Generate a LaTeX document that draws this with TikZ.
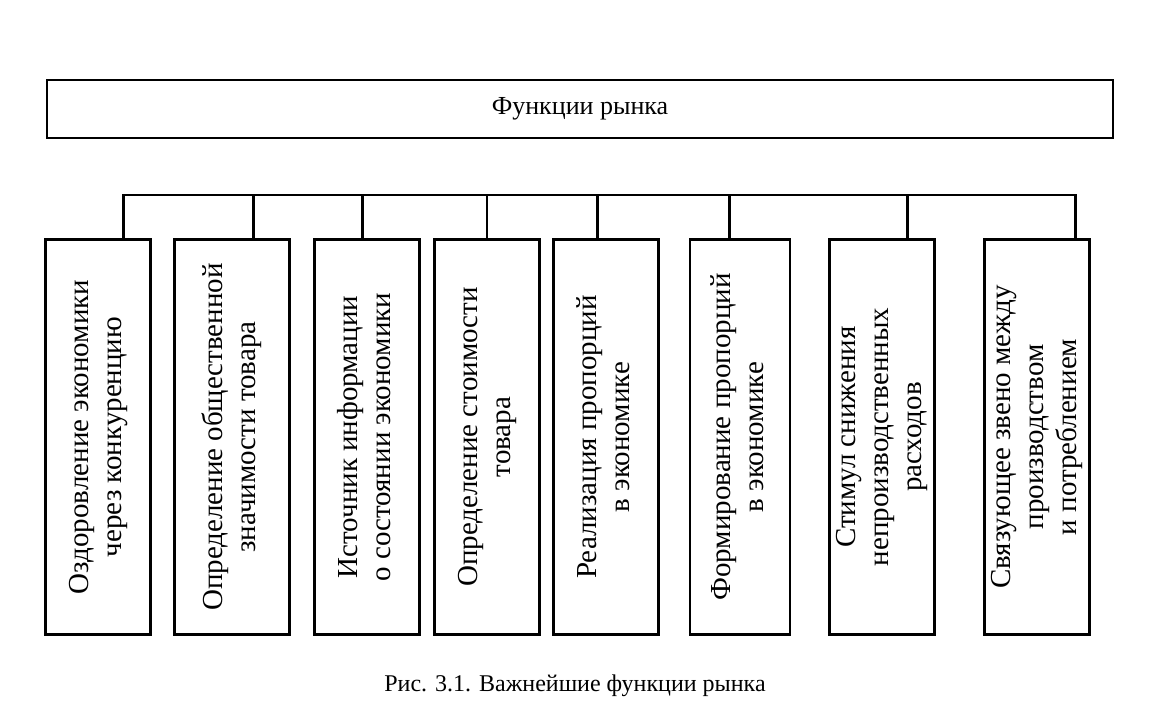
\documentclass[tikz,border=0pt]{standalone}
\usepackage{fontspec}
\setmainfont{Liberation Serif}
\usepackage{graphicx}
\usetikzlibrary{calc}

\tikzset{
every picture/.style={
line width=1.4pt
}}

\newcommand{\vtext}[1]{\rotatebox{90}{\begin{tabular}{@{}c@{}}#1\end{tabular}}}

\begin{document}
\begin{tikzpicture}[x=0.5pt, y=-0.5pt,
block/.style = {rectangle, draw=black, minimum width=52.5pt, minimum height=197.5pt, inner sep=0pt, font=\fontsize{14.5}{16.5}\selectfont}]

\useasboundingbox (0,0) rectangle (1165,701);

\node[rectangle, draw, minimum width=533pt, minimum height=29pt, font=\fontsize{13}{15}\selectfont] (f) at (580,109) {Функции рынка};
\coordinate (bus) at (600,195);

\node[block] (b1) at (98,437) {\vtext{Оздоровление экономики\\через конкуренцию}};
\node[block, minimum width=57.5pt] (b2) at (232,437) {\vtext{Определение общественной\\значимости товара}};
\node[block] (b3) at (367,437) {\vtext{Источник информации\\о состоянии экономики}};
\node[block] (b4) at (487,437) {\vtext{Определение стоимости\\товара}};
\node[block] (b5) at (606,437) {\vtext{Реализация пропорций\\в экономике}};
\node[block, minimum width=50pt] (b6) at (740,437) {\vtext{Формирование пропорций\\в экономике}};
\node[block] (b7) at (882,437) {\vtext{Стимул снижения\\непроизводственных\\расходов}};
\node[block] (b8) at (1037,437) {\vtext{Связующее звено между\\производством\\и потреблением}};

% stems
\coordinate (s1) at ($(b1.north west)!0.74!(b1.north east)$);
\coordinate (s2) at ($(b2.north west)!0.68!(b2.north east)$);
\coordinate (s3) at ($(b3.north west)!0.46!(b3.north east)$);
\coordinate (s4) at ($(b4.north west)!0.5!(b4.north east)$);
\coordinate (s5) at ($(b5.north west)!0.42!(b5.north east)$);
\coordinate (s6) at ($(b6.north west)!0.4!(b6.north east)$);
\coordinate (s7) at ($(b7.north west)!0.74!(b7.north east)$);
\coordinate (s8) at ($(b8.north west)!0.86!(b8.north east)$);

\draw (s1) -- (s1 |- bus) -- (s8 |- bus) -- (s8);
\draw (s2) -- (s2 |- bus);
\draw (s3) -- (s3 |- bus);
\draw (s4) -- (s4 |- bus);
\draw (s5) -- (s5 |- bus);
\draw (s6) -- (s6 |- bus);
\draw (s7) -- (s7 |- bus);

\node[font=\fontsize{12}{14}\selectfont] (cap) at (575,686) {Рис. 3.1. Важнейшие функции рынка};
\end{tikzpicture}
\end{document}
